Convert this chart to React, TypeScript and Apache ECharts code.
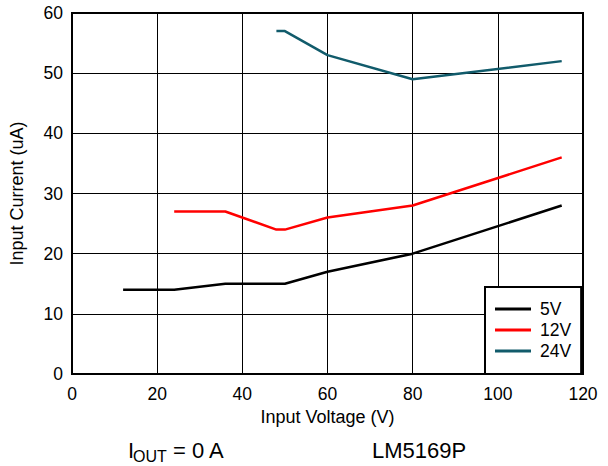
import React, { useEffect, useRef } from "react";
import * as echarts from "echarts";

const seriesNames = ["5V", "12V", "24V"];
const seriesColors = ["#000000", "#FF0000", "#115B6B"];
const v5: [number, number][] = [[12, 14], [24, 14], [36, 15], [50, 15], [60, 17], [80, 20], [115, 28]];
const v12: [number, number][] = [[24, 27], [36, 27], [48, 24], [50, 24], [60, 26], [80, 28], [115, 36]];
const v24: [number, number][] = [[48, 57], [50, 57], [60, 53], [80, 49], [115, 52]];
const seriesData = [v5, v12, v24];

const FONT = "'Liberation Sans', Arial, sans-serif";

export default function App() {
  const ref = useRef<HTMLDivElement>(null);
  useEffect(() => {
    if (!ref.current) return;
    const chart = echarts.init(ref.current, undefined, { renderer: "svg" });
    const txt = (text: string, x: number, y: number, size: number) => ({
      type: "text", x, y,
      style: { text, x: 0, y: 0, fontSize: size, fontFamily: FONT, fill: "#000", align: "left", verticalAlign: "middle" },
    });
    chart.setOption({
      animation: false,
      backgroundColor: "#ffffff",
      textStyle: { fontFamily: FONT },
      grid: { left: 71, top: 13, width: 512, height: 361, show: true, borderColor: "#000", borderWidth: 2, containLabel: false },
      xAxis: {
        type: "value", min: 0, max: 120, interval: 20,
        name: "Input Voltage (V)", nameLocation: "middle", nameGap: 28,
        nameTextStyle: { fontSize: 18, color: "#000", fontFamily: FONT },
        axisLine: { show: true, lineStyle: { color: "#000", width: 2 } },
        axisTick: { show: false },
        axisLabel: { fontSize: 17.5, color: "#000", margin: 11, fontFamily: FONT },
        splitLine: { show: true, lineStyle: { color: "#000", width: 1 } },
      },
      yAxis: {
        type: "value", min: 0, max: 60, interval: 10,
        name: "Input Current (uA)", nameLocation: "middle", nameGap: 46,
        nameTextStyle: { fontSize: 18, color: "#000", fontFamily: FONT },
        axisLine: { show: true, lineStyle: { color: "#000", width: 2 } },
        axisTick: { show: false },
        axisLabel: { fontSize: 17.5, color: "#000", margin: 9, fontFamily: FONT },
        splitLine: { show: true, lineStyle: { color: "#000", width: 1 } },
      },
      legend: {
        data: seriesNames,
        orient: "vertical",
        left: 485, top: 287,
        padding: [13, 10, 14, 10],
        icon: "rect",
        itemWidth: 36, itemHeight: 3, itemGap: 3,
        backgroundColor: "#fff",
        borderColor: "#000", borderWidth: 2,
        textStyle: { fontSize: 17.5, color: "#000", lineHeight: 18, fontFamily: FONT, padding: [0, 0, 0, 4] },
      },
      graphic: [
        txt("I", 128, 450, 22),
        txt("OUT", 133, 456, 16),
        txt("= 0 A", 173, 450, 22),
        txt("LM5169P", 372, 450, 22),
      ],
      series: seriesNames.map((n, i) => ({
        name: n, type: "line", data: seriesData[i], symbol: "none",
        color: seriesColors[i],
        lineStyle: { color: seriesColors[i], width: 2.5 },
      })),
    });
    return () => chart.dispose();
  }, []);
  return <div ref={ref} style={{ position: "fixed", left: 0, top: 0, width: 608, height: 466 }} />;
}
